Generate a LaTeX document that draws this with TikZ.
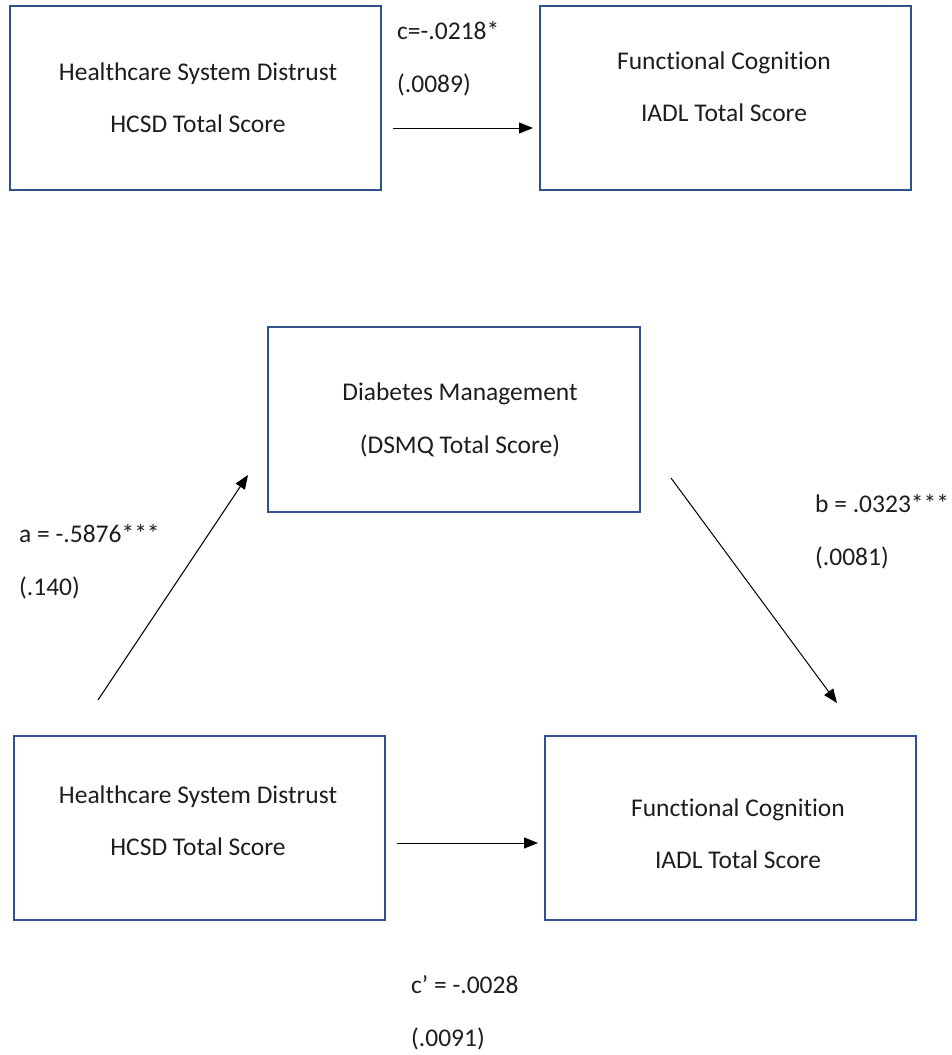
\documentclass[tikz,border=0pt]{standalone}
\usepackage{fontspec}
\setmainfont[Ligatures=NoCommon]{Carlito}
\usetikzlibrary{arrows.meta}
\definecolor{boxblue}{RGB}{47,82,143}
\definecolor{txtgray}{RGB}{30,30,30}
\begin{document}
\begin{tikzpicture}[x=1pt,y=-1pt,
  varbox/.style={draw=boxblue,line width=1.6pt,fill=white},
  txt/.style={font=\fontsize{25.5}{30}\selectfont,text=txtgray,inner sep=0pt,anchor=base},
  lbl/.style={font=\fontsize{25.5}{30}\selectfont,text=txtgray,inner sep=0pt,anchor=base west},
  path/.style={line width=1pt,-{Triangle[length=14pt,width=11pt]}}]
\useasboundingbox[fill=white] (0,0) rectangle (951,1055);
% top model
\draw[varbox] (10,6) rectangle (381,190);
\node[txt] (t1) at (198,80) {Healthcare System Distrust};
\node[txt] (t2) at (198,132) {HCSD Total Score};
\draw[varbox] (540,6) rectangle (911,190);
\node[txt] (t3) at (724,69) {Functional Cognition};
\node[txt] (t4) at (724,121) {IADL Total Score};
\coordinate (c1s) at (393,128);
\coordinate (c1e) at (533,128);
\draw[path] (c1s) -- (c1e);
\node[lbl] (lc) at (397,39) {c=-.0218*};
\node[lbl] (lcse) at (397,92) {(.0089)};
% mediation model
\draw[varbox] (268,327) rectangle (640,512);
\node[txt] (m1) at (460,400) {Diabetes Management};
\node[txt] (m2) at (460,453) {(DSMQ Total Score)};
\draw[varbox] (14,736) rectangle (385,920);
\node[txt] (x1) at (198,803) {Healthcare System Distrust};
\node[txt] (x2) at (198,855) {HCSD Total Score};
\draw[varbox] (545,736) rectangle (916,920);
\node[txt] (y1) at (738,816) {Functional Cognition};
\node[txt] (y2) at (738,868) {IADL Total Score};
\coordinate (as) at (98,700);
\coordinate (ae) at (248,475);
\draw[path] (as) -- (ae);
\coordinate (bs) at (671,478);
\coordinate (be) at (837,703);
\draw[path] (bs) -- (be);
\coordinate (cs) at (397,843);
\coordinate (ce) at (538,843);
\draw[path] (cs) -- (ce);
\node[lbl] (la) at (19,542) {a = -.5876***};
\node[lbl] (lase) at (19,595) {(.140)};
\node[lbl] (lb) at (815,512) {b = .0323***};
\node[lbl] (lbse) at (815,565) {(.0081)};
\node[lbl] (lcp) at (411,993) {c’ = -.0028};
\node[lbl] (lcpse) at (411,1046) {(.0091)};
\end{tikzpicture}
\end{document}
